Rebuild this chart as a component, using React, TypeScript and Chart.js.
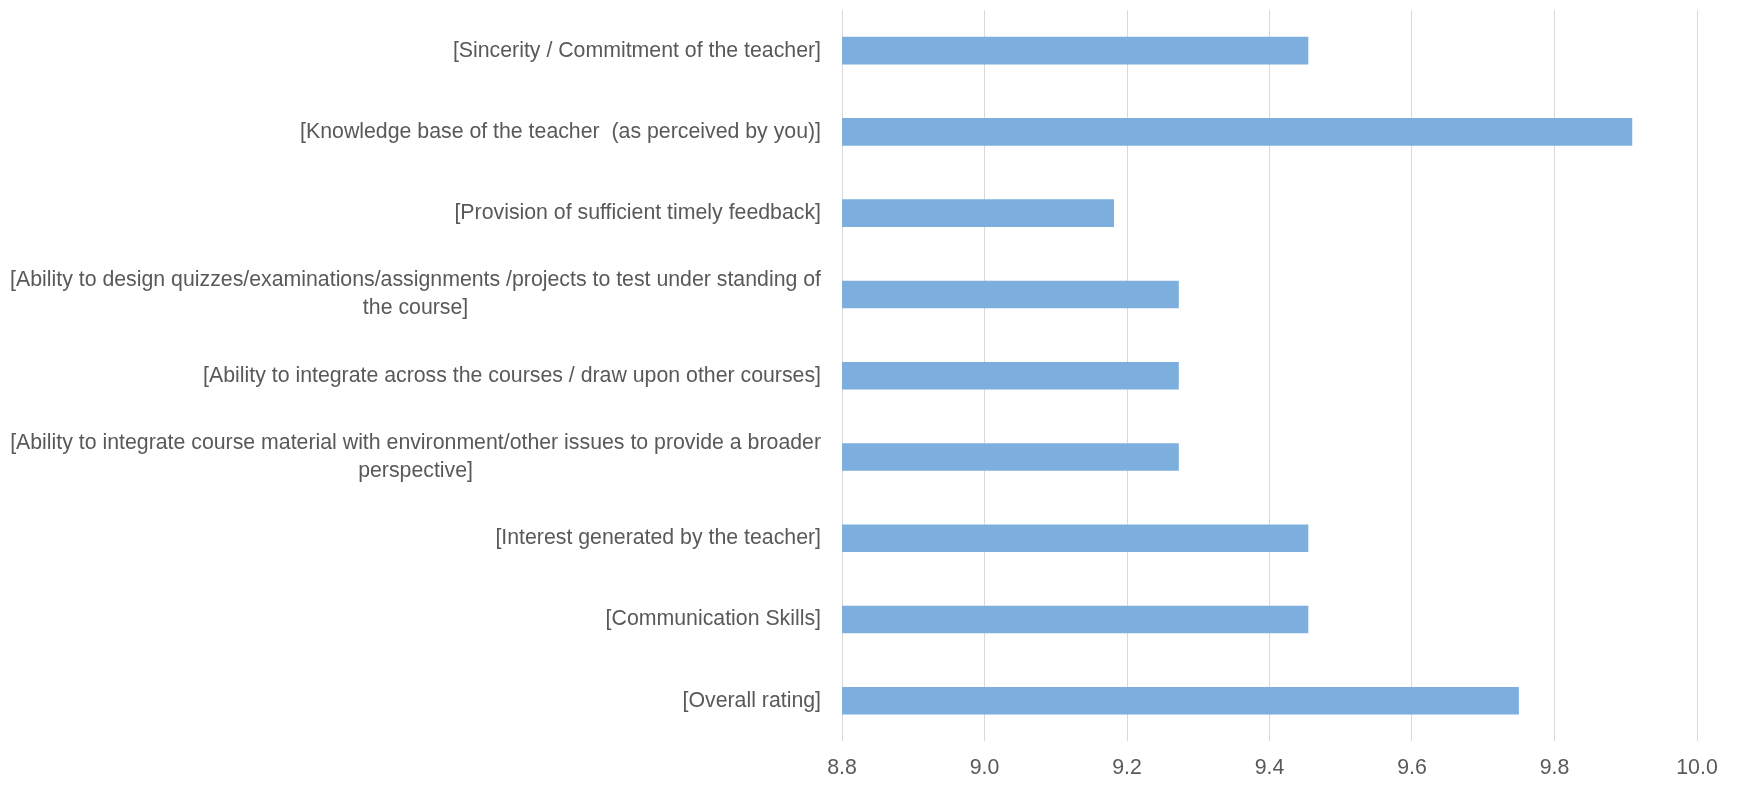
import React, { useEffect, useRef } from "react";
import { Chart, registerables } from "chart.js";

Chart.register(...registerables);

const categories: string[][] = [
  ["[Sincerity / Commitment of the teacher]"],
  ["[Knowledge base of the teacher  (as perceived by you)]"],
  ["[Provision of sufficient timely feedback]"],
  ["[Ability to design quizzes/examinations/assignments /projects to test under standing of", "the course]"],
  ["[Ability to integrate across the courses / draw upon other courses]"],
  ["[Ability to integrate course material with environment/other issues to provide a broader", "perspective]"],
  ["[Interest generated by the teacher]"],
  ["[Communication Skills]"],
  ["[Overall rating]"],
];

const ratings: number[] = [9.4545, 9.9091, 9.1818, 9.2727, 9.2727, 9.2727, 9.4545, 9.4545, 9.75];

const axisMin = 8.8;
const axisMax = 10.0;
const axisStep = 0.2;

const FONT_FAMILY = "'Liberation Sans', Arial, sans-serif";
const FONT_SIZE = 21.3;
const TEXT_COLOR = "#595959";
const LINE_HEIGHT = 27.8;

const categoryLabelPlugin = {
  id: "categoryLabels",
  afterDraw(chart: any) {
    const { ctx } = chart;
    const yScale = chart.scales.y;
    const rightX = chart.chartArea.left - 21;
    ctx.save();
    ctx.font = `${FONT_SIZE}px ${FONT_FAMILY}`;
    ctx.fillStyle = TEXT_COLOR;
    ctx.textAlign = "center";
    ctx.textBaseline = "middle";
    categories.forEach((lines, i) => {
      const y = yScale.getPixelForValue(i);
      const blockW = Math.max(...lines.map((l) => ctx.measureText(l).width));
      const cx = rightX - blockW / 2;
      const y0 = y - ((lines.length - 1) * LINE_HEIGHT) / 2;
      lines.forEach((line, j) => {
        ctx.fillText(line, cx, y0 + j * LINE_HEIGHT);
      });
    });
    ctx.restore();
  },
};

export default function App() {
  const canvasRef = useRef<HTMLCanvasElement | null>(null);

  useEffect(() => {
    if (!canvasRef.current) return;
    const chart = new Chart(canvasRef.current, {
      type: "bar",
      data: {
        labels: categories.map((c) => c.join(" ")),
        datasets: [
          {
            data: ratings,
            backgroundColor: "#7cafdd",
            borderWidth: 0,
            barPercentage: 0.34,
            categoryPercentage: 1.0,
          },
        ],
      },
      options: {
        indexAxis: "y",
        responsive: false,
        animation: false,
        layout: { padding: { top: 10, right: 44, bottom: 1, left: 0 } },
        plugins: {
          legend: { display: false },
          tooltip: { enabled: false },
        },
        scales: {
          x: {
            min: axisMin,
            max: axisMax,
            grid: { color: "#d9d9d9", lineWidth: 1, drawTicks: false },
            border: { display: false },
            ticks: {
              stepSize: axisStep,
              padding: 14,
              color: TEXT_COLOR,
              font: { family: FONT_FAMILY, size: FONT_SIZE },
              callback: (v: any) => Number(v).toFixed(1),
            },
          },
          y: {
            grid: { display: false, drawTicks: false },
            border: { display: false },
            ticks: { display: false },
            afterFit: (scale: any) => {
              scale.width = 842;
            },
          },
        },
      },
      plugins: [categoryLabelPlugin],
    });
    return () => chart.destroy();
  }, []);

  return (
    <div style={{ position: "absolute", left: 0, top: 0, width: 1741, height: 796, background: "#fff" }}>
      <canvas ref={canvasRef} width={1741} height={796} />
    </div>
  );
}
